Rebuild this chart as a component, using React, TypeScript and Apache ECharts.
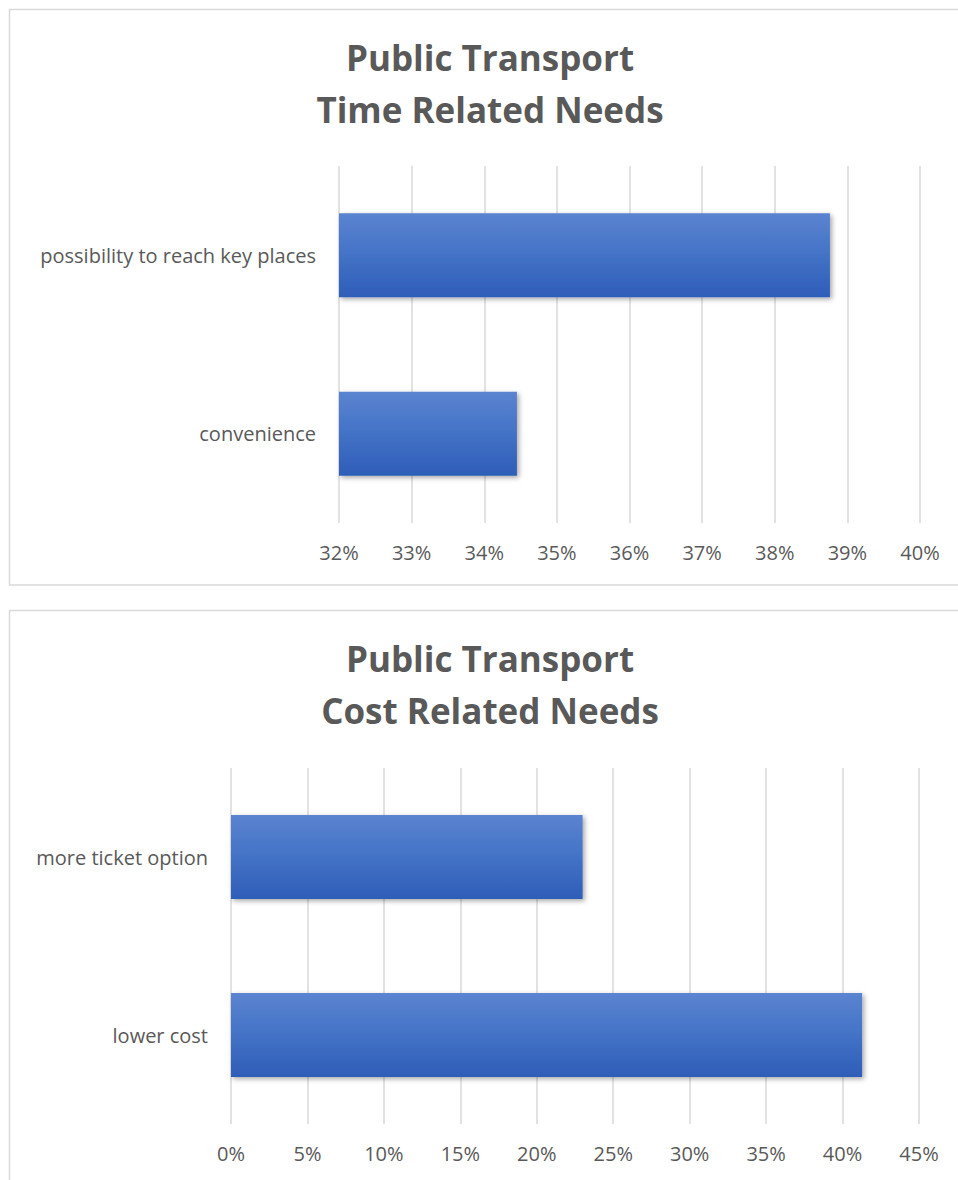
import React, { useEffect, useRef } from "react";
import * as echarts from "echarts";

const timeCategories = ["possibility to reach key places", "convenience"];
const timeValues = [38.76, 34.45];
const timeTicks = { min: 32, max: 40, interval: 1 };

const costCategories = ["more ticket option", "lower cost"];
const costValues = [23.0, 41.28];
const costTicks = { min: 0, max: 45, interval: 5 };

const titleTime = "Public Transport\nTime Related Needs";
const titleCost = "Public Transport\nCost Related Needs";

const FONT = "'Open Sans', Roboto, sans-serif";
const TEXT = "#595959";
const GRID = "#d9d9d9";

const barGradient = () =>
  new echarts.graphic.LinearGradient(0, 0, 0, 1, [
    { offset: 0, color: "#5b84d0" },
    { offset: 0.5, color: "#4372c6" },
    { offset: 1, color: "#2e5db8" },
  ]);

export default function App() {
  const ref = useRef<HTMLDivElement>(null);
  useEffect(() => {
    if (!ref.current) return;
    const chart = echarts.init(ref.current, undefined, { renderer: "svg" });
    const xAxisBase = (gridIndex: number, t: { min: number; max: number; interval: number }) => ({
      type: "value",
      gridIndex,
      min: t.min,
      max: t.max,
      interval: t.interval,
      axisLine: { show: false },
      axisTick: { show: false },
      splitLine: { show: true, lineStyle: { color: GRID, width: 1.5 } },
      axisLabel: {
        formatter: "{value}%",
        color: TEXT,
        fontSize: 20,
        fontFamily: FONT,
        margin: 19,
      },
    });
    const yAxisBase = (gridIndex: number, cats: string[]) => ({
      type: "category",
      gridIndex,
      data: cats,
      inverse: true,
      axisLine: { show: false },
      axisTick: { show: false },
      splitLine: { show: false },
      axisLabel: { color: TEXT, fontSize: 20, fontFamily: FONT, margin: 23 },
    });
    const seriesBase = (idx: number, values: number[]) => ({
      type: "bar",
      xAxisIndex: idx,
      yAxisIndex: idx,
      data: values,
      barWidth: 84,
      itemStyle: {
        color: barGradient(),
        shadowBlur: 5,
        shadowOffsetX: 2,
        shadowOffsetY: 2,
        shadowColor: "rgba(0,0,0,0.35)",
      },
    });
    const titleStyle = { fontSize: 35, fontWeight: "bold", color: TEXT, fontFamily: FONT, lineHeight: 52 };
    chart.setOption({
      animation: false,
      backgroundColor: "#ffffff",
      title: [
        { text: titleTime, left: 485, top: 26, textAlign: "center", textStyle: titleStyle },
        { text: titleCost, left: 485, top: 627, textAlign: "center", textStyle: titleStyle },
      ],
      graphic: [
        {
          type: "rect",
          shape: { x: 9.5, y: 9.5, width: 980, height: 575.5 },
          style: { fill: "none", stroke: GRID, lineWidth: 1.5 },
          silent: true,
        },
        {
          type: "rect",
          shape: { x: 9.5, y: 610.5, width: 980, height: 600 },
          style: { fill: "none", stroke: GRID, lineWidth: 1.5 },
          silent: true,
        },
      ],
      grid: [
        { left: 339, right: 38, top: 166, height: 357 },
        { left: 231, right: 39, top: 768, height: 356 },
      ],
      xAxis: [xAxisBase(0, timeTicks), xAxisBase(1, costTicks)],
      yAxis: [yAxisBase(0, timeCategories), yAxisBase(1, costCategories)],
      series: [seriesBase(0, timeValues), seriesBase(1, costValues)],
    });
    return () => chart.dispose();
  }, []);
  return (
    <div
      ref={ref}
      style={{ position: "absolute", left: 0, top: 0, width: 958, height: 1180 }}
    />
  );
}
